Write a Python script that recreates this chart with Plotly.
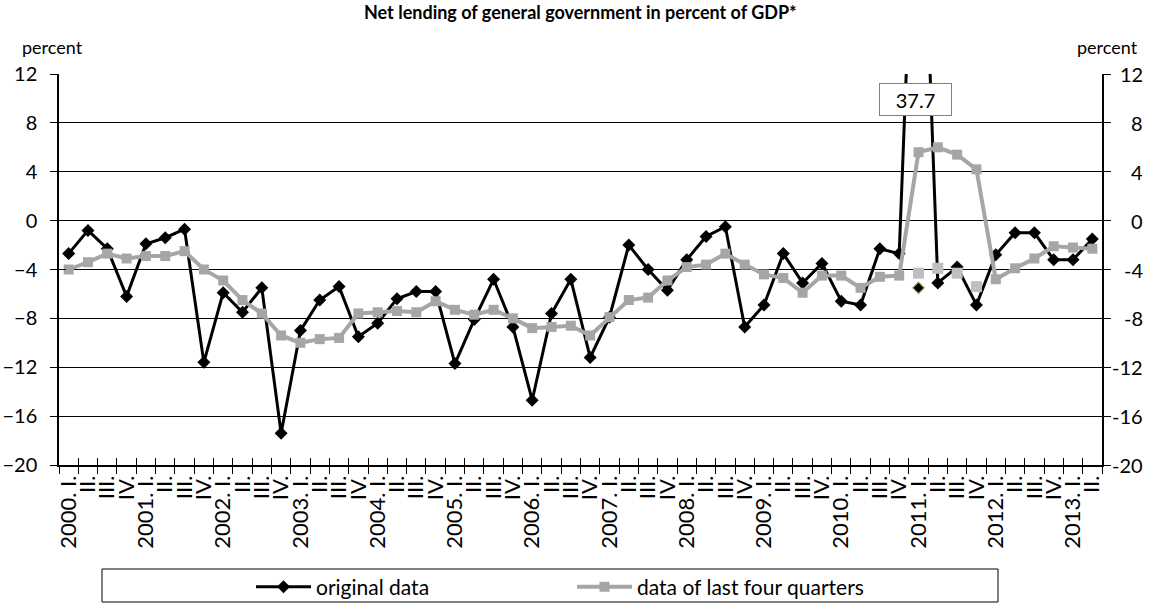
import plotly.graph_objects as go

# Quarterly categories 2000 Q1 .. 2013 Q2
years = list(range(2000, 2014))
quarters = ["I.", "II.", "III.", "IV."]
categories = [f"{y}. {q}" for y in years for q in quarters][:54]
tick_labels = [f"{y}. {q}" if q == "I." else q for y in years for q in quarters][:54]

# Net lending, percent of GDP
original_data = [
    -2.7, -0.8, -2.3, -6.2,
    -1.9, -1.4, -0.7, -11.6,
    -5.9, -7.5, -5.5, -17.4,
    -9.0, -6.5, -5.4, -9.5,
    -8.4, -6.4, -5.8, -5.8,
    -11.7, -8.1, -4.8, -8.7,
    -14.7, -7.6, -4.8, -11.2,
    -7.9, -2.0, -4.0, -5.7,
    -3.2, -1.3, -0.5, -8.7,
    -6.9, -2.7, -5.1, -3.5,
    -6.6, -6.9, -2.3, -2.7,
    37.7, -5.1, -3.8, -6.9,
    -2.8, -1.0, -1.0, -3.2,
    -3.2, -1.5,
]
last_four_quarters = [
    -4.0, -3.4, -2.7, -3.1,
    -2.9, -2.9, -2.5, -4.0,
    -4.9, -6.5, -7.6, -9.4,
    -10.0, -9.7, -9.6, -7.6,
    -7.5, -7.4, -7.5, -6.6,
    -7.3, -7.7, -7.3, -8.0,
    -8.8, -8.7, -8.6, -9.4,
    -7.9, -6.5, -6.3, -4.9,
    -3.8, -3.6, -2.7, -3.6,
    -4.4, -4.7, -5.9, -4.5,
    -4.5, -5.5, -4.6, -4.5,
    5.6, 6.0, 5.4, 4.2,
    -4.8, -3.9, -3.1, -2.1,
    -2.2, -2.3,
]
# 2011 values without the one-off item
adjusted_orig_cats = ["2011. I."]
adjusted_orig = [-5.5]
adjusted_four_cats = ["2011. I.", "2011. II.", "2011. III.", "2011. IV."]
adjusted_four = [-4.3, -3.9, -4.3, -5.4]

y_ticks = list(range(-20, 13, 4))
spike_idx = original_data.index(max(original_data))

FONT = "Lato"
BLACK = "#000000"
GREY = "#a6a6a6"
LIGHT_GREY = "#bfbfbf"

# plot area in pixels
L, R, T, B = 59, 1102, 74, 465
W, H = R - L, B - T


def px_x(p):
    return (p - L) / W


def px_y(p):
    return (B - p) / H


fig = go.Figure()
fig.add_trace(go.Scatter(
    x=categories, y=original_data, name="original data", mode="lines+markers",
    line=dict(color=BLACK, width=3),
    marker=dict(symbol="diamond", size=10, color=BLACK),
))
fig.add_trace(go.Scatter(
    x=categories, y=last_four_quarters, name="data of last four quarters",
    mode="lines+markers",
    line=dict(color=GREY, width=4),
    marker=dict(symbol="square", size=10, color=GREY),
))
fig.add_trace(go.Scatter(
    x=adjusted_four_cats, y=adjusted_four, mode="markers", showlegend=False,
    marker=dict(symbol="square", size=11, color=LIGHT_GREY),
))
fig.add_trace(go.Scatter(
    x=adjusted_orig_cats, y=adjusted_orig, mode="markers", showlegend=False,
    marker=dict(symbol="diamond", size=9, color=BLACK,
                line=dict(color="#9bbb59", width=1.2)),
))
# carriers for the right-hand axis and the inner tick halves
for xa, ya in [("x", "y2"), ("x2", "y3"), ("x", "y4")]:
    fig.add_trace(go.Scatter(
        x=categories, y=original_data, xaxis=xa, yaxis=ya, mode="lines",
        line=dict(width=0, color="rgba(0,0,0,0)"), showlegend=False,
        hoverinfo="skip",
    ))

tick_font = dict(family=FONT, size=20, color=BLACK)
x_common = dict(type="category", categoryorder="array", categoryarray=categories,
                range=[-0.5, len(categories) - 0.5], tickson="boundaries",
                showgrid=False, zeroline=False, automargin=False)
y_common = dict(range=[-20, 12], tickvals=y_ticks, zeroline=False,
                automargin=False)

fig.update_layout(
    width=1161, height=605,
    margin=dict(l=L, r=1161 - R, t=T, b=605 - B, autoexpand=False),
    paper_bgcolor="white", plot_bgcolor="white",
    font=dict(family=FONT, color=BLACK),
    xaxis=dict(**x_common, tickvals=categories, ticktext=tick_labels,
               tickangle=-90, tickfont=dict(family=FONT, size=22, color=BLACK),
               ticks="outside", ticklen=7, tickcolor=BLACK, tickwidth=1,
               showline=True, linecolor=BLACK, linewidth=1.5),
    xaxis2=dict(**x_common, overlaying="x", anchor="y", side="bottom",
                tickvals=categories, ticks="inside", ticklen=7, tickcolor=BLACK,
                tickwidth=1, showticklabels=False, showline=False),
    yaxis=dict(**y_common, showgrid=True, gridcolor=BLACK, gridwidth=1,
               showline=True, linecolor=BLACK, linewidth=1.5,
               ticks="outside", ticklen=7, tickcolor=BLACK, tickfont=tick_font,
               ticklabelstandoff=9),
    yaxis2=dict(**y_common, overlaying="y", side="right", anchor="x",
                showgrid=False, showline=True, linecolor=BLACK, linewidth=1.5,
                ticks="outside", ticklen=7, tickcolor=BLACK,
                showticklabels=False),
    yaxis3=dict(**y_common, overlaying="y", side="left", anchor="x2",
                showgrid=False, showline=False, ticks="inside", ticklen=7,
                tickcolor=BLACK, showticklabels=False),
    yaxis4=dict(**y_common, overlaying="y", side="right", anchor="x",
                showgrid=False, showline=False, ticks="inside", ticklen=7,
                tickcolor=BLACK, showticklabels=False),
    showlegend=True,
    legend=dict(orientation="h", x=px_x(251), xanchor="left",
                y=px_y(587), yanchor="middle",
                font=dict(family=FONT, size=21, color=BLACK),
                itemwidth=55, entrywidth=251, bgcolor="rgba(0,0,0,0)",
                borderwidth=0),
)

# right-hand tick labels, right aligned
for v in y_ticks:
    fig.add_annotation(text=str(v), xref="paper", yref="y", x=px_x(1145), y=v,
                       xanchor="right", yanchor="middle", showarrow=False,
                       font=tick_font)

# legend frame
fig.add_shape(type="rect", xref="paper", yref="paper",
              x0=px_x(102), x1=px_x(998), y0=px_y(569), y1=px_y(602),
              line=dict(color=BLACK, width=1), fillcolor="rgba(0,0,0,0)")

# title and unit labels
fig.add_annotation(text="<b>Net lending of general government in percent of GDP*</b>",
                   xref="paper", yref="paper", x=px_x(580), y=px_y(12),
                   xanchor="center", yanchor="middle", showarrow=False,
                   font=dict(family=FONT, size=18, color=BLACK))
for px in (52.5, 1107.5):
    fig.add_annotation(text="percent", xref="paper", yref="paper",
                       x=px_x(px), y=px_y(46.5), xanchor="center",
                       yanchor="middle", showarrow=False,
                       font=dict(family=FONT, size=18, color=BLACK))

# value label for the off-scale quarter
fig.add_annotation(text=f"{original_data[spike_idx]:.1f}", x=categories[spike_idx],
                   y=9.9, xref="x", yref="y", showarrow=False, xshift=-3,
                   bgcolor="white", bordercolor="#7f7f7f", borderwidth=1,
                   borderpad=3, width=65, height=25,
                   font=dict(family=FONT, size=20, color=BLACK))

fig.write_html("out.html")
